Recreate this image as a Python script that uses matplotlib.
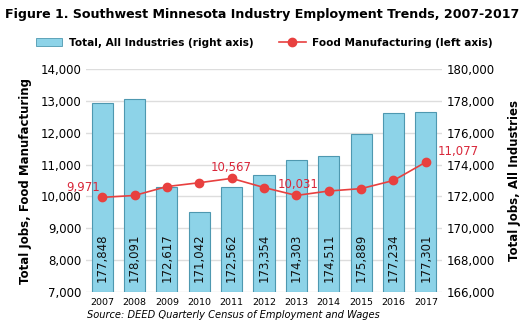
import matplotlib
matplotlib.use("Agg")
import matplotlib.pyplot as plt
from matplotlib.lines import Line2D
from matplotlib.patches import Patch

years = ["2007", "2008", "2009", "2010", "2011", "2012", "2013", "2014", "2015", "2016", "2017"]
total_all = [177848, 178091, 172617, 171042, 172562, 173354, 174303, 174511, 175889, 177234, 177301]
food_mfg = [9971, 10030, 10310, 10430, 10567, 10280, 10031, 10170, 10245, 10500, 11077]
food_labeled = {"2007": "9,971", "2011": "10,567", "2013": "10,031", "2017": "11,077"}
left_ticks = [7000, 8000, 9000, 10000, 11000, 12000, 13000, 14000]
right_ticks = [166000, 168000, 170000, 172000, 174000, 176000, 178000, 180000]

plt.rcParams['font.family'] = ['DejaVu Sans']
fig = plt.figure(figsize=(5.29, 3.27), dpi=100)
ax = fig.add_axes([86/529, 1-292/327, (442-86)/529, (292-69)/327])
ax2 = ax.twinx()

x = list(range(len(years)))
bar_color = "#8DD3E8"
edge_color = "#4E98B0"
ax2.bar(x, [v - right_ticks[0] for v in total_all], bottom=right_ticks[0], width=0.65,
        color=bar_color, edgecolor=edge_color, linewidth=0.8, zorder=2)
for xi, v in zip(x, total_all):
    ax2.text(xi, 166650, f"{v:,}", rotation=90, ha="center", va="bottom", fontsize=8.5,
             color="#111111", zorder=3)

ax2.set_ylim(right_ticks[0], right_ticks[-1])
ax2.set_yticks(right_ticks)
ax2.set_yticklabels([f"{t:,}" for t in right_ticks], fontsize=8.5)
ax2.set_ylabel("Total Jobs, All Industries", fontsize=8.5, fontweight="bold", labelpad=9)
ax2.grid(axis="y", color="#DDDDDD", linewidth=1, zorder=0)
ax2.set_axisbelow(True)

ax.set_ylim(left_ticks[0], left_ticks[-1])
ax.set_yticks(left_ticks)
ax.set_yticklabels([f"{t:,}" for t in left_ticks], fontsize=8.5)
ax.set_ylabel("Total Jobs, Food Manufacturing", fontsize=8.5, fontweight="bold", labelpad=6)

ax.set_zorder(ax2.get_zorder() + 1)
ax.patch.set_visible(False)

red = "#E8403F"
ax.plot(x, food_mfg, color=red, linewidth=1.2, marker="o", markersize=6, zorder=4)
offsets = {"2007": (-0.58, 120), "2011": (0.0, 150), "2013": (0.05, 150), "2017": (1.0, 130)}
for i, yr in enumerate(years):
    if yr in food_labeled:
        dx, dy = offsets[yr]
        ax.text(x[i] + dx, food_mfg[i] + dy, food_labeled[yr], color="#D9273A", fontsize=8.5,
                ha="center", va="bottom", zorder=5, clip_on=False)

ax.set_xlim(-0.5, len(years) - 0.5)
ax.set_xticks(x)
ax.set_xticklabels(years, fontsize=6.8)
for a in (ax, ax2):
    for s in a.spines.values():
        s.set_visible(False)
    a.tick_params(length=0)
ax.tick_params(axis="x", pad=4)

fig.text(0.01, 0.975, "Figure 1. Southwest Minnesota Industry Employment Trends, 2007-2017",
         fontsize=9.1, fontweight="bold", ha="left", va="top")
handles = [Patch(facecolor=bar_color, edgecolor=edge_color, linewidth=0.6),
           Line2D([0], [0], color=red, marker="o", markersize=6, linewidth=1.2)]
fig.legend(handles, ["Total, All Industries (right axis)", "Food Manufacturing (left axis)"],
           loc="center", bbox_to_anchor=(0.5, 1 - 43/327), ncol=2, frameon=False,
           prop={"size": 7.6, "weight": "bold"}, handlelength=2.5, handletextpad=0.65,
           columnspacing=2.4, handleheight=0.8)
fig.text(87/529, 1 - 315/327, "Source: DEED Quarterly Census of Employment and Wages",
         fontsize=7.1, fontstyle="italic", ha="left", va="center")
fig.savefig("out.png", dpi=100)
